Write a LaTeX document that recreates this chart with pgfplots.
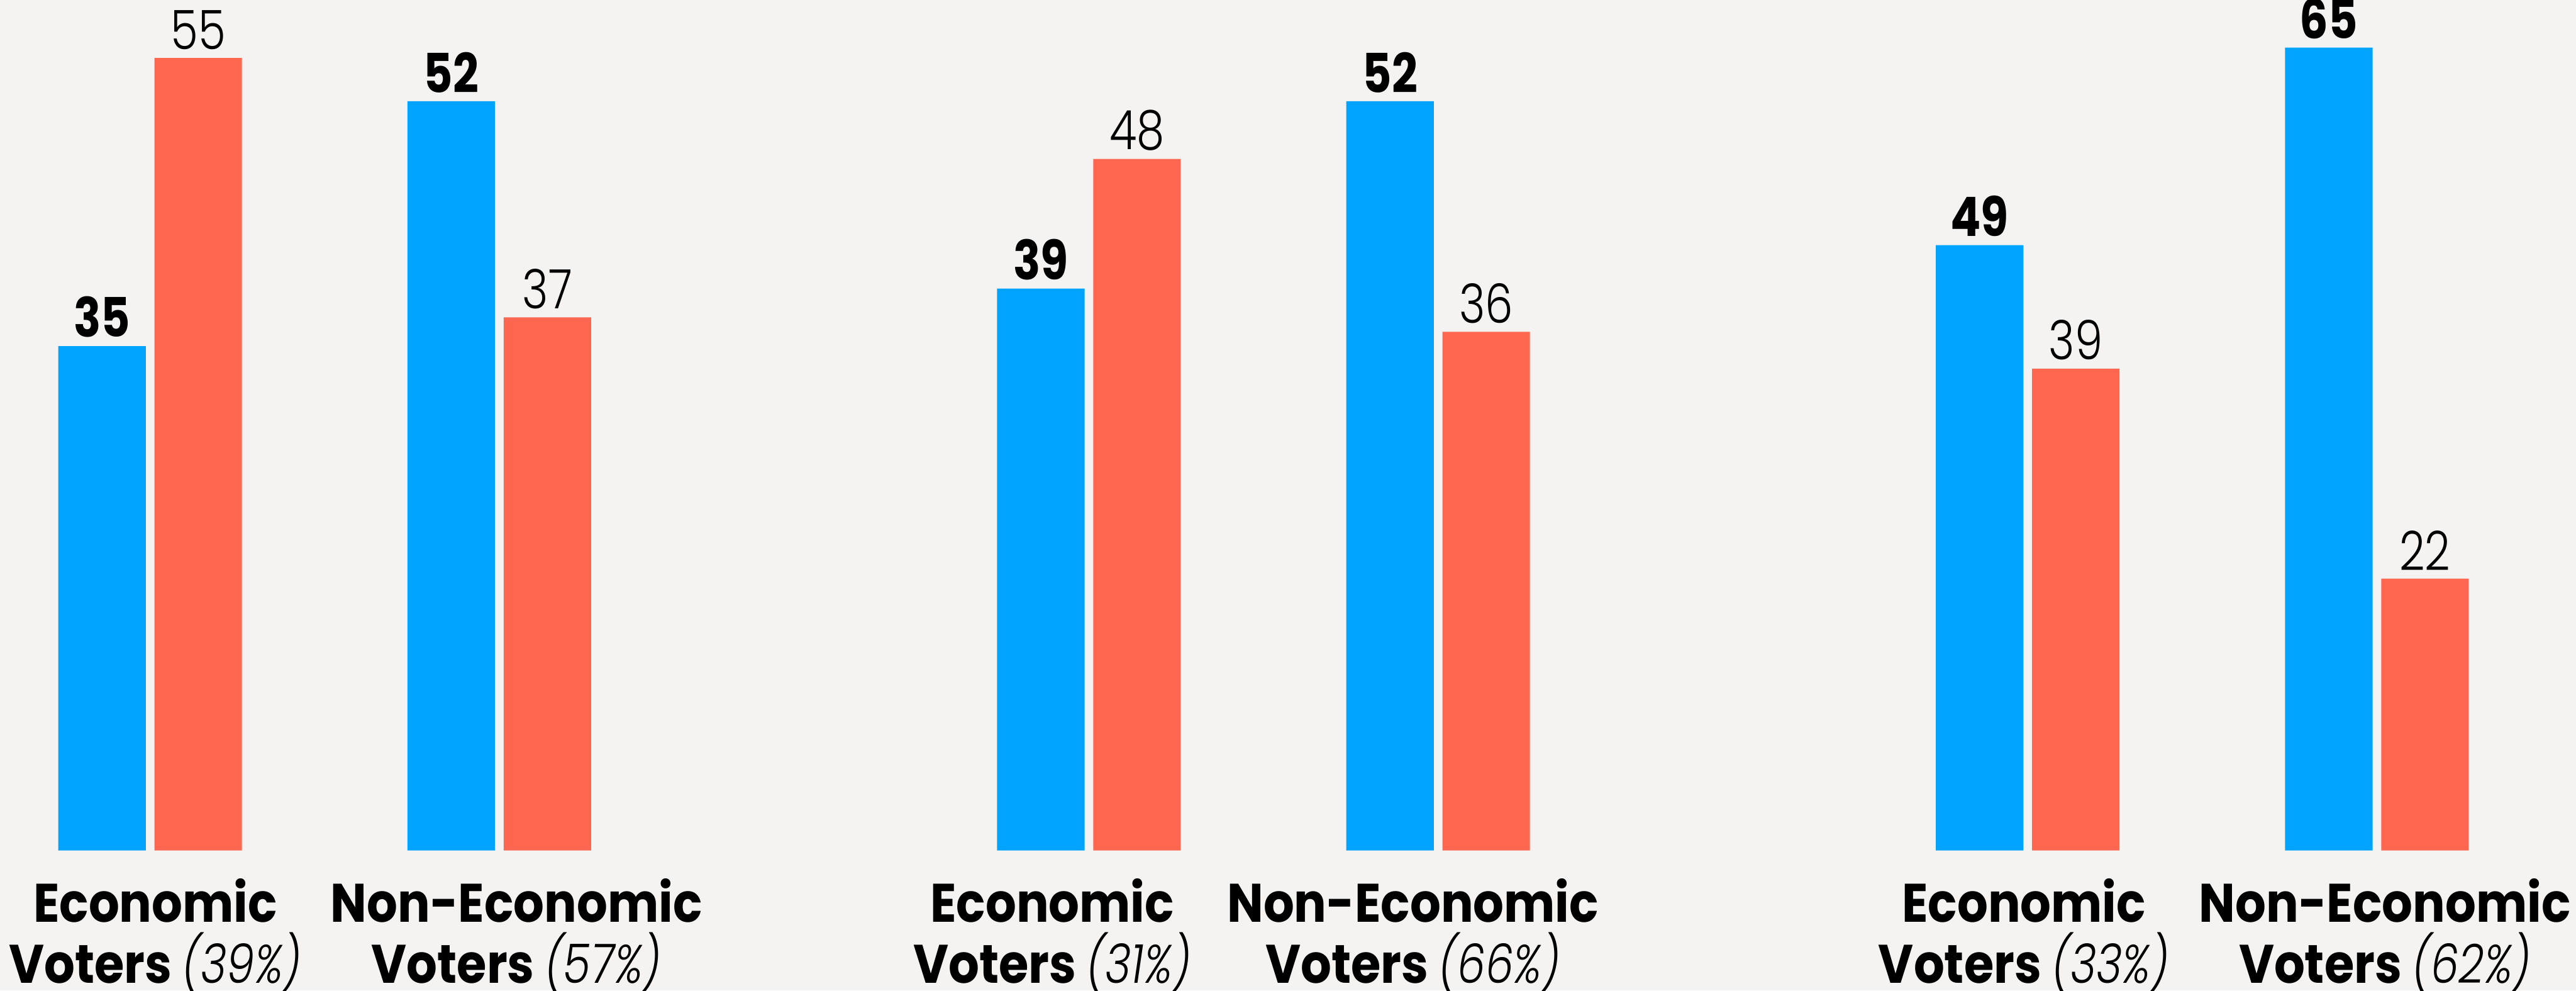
\documentclass[border=0pt]{standalone}
\usepackage{fontspec}
\usepackage{pgfplots}
\pgfplotsset{compat=1.18}
\newfontfamily\pl{Poppins Light}[FakeStretch=0.82]
\newfontfamily\pli{Poppins Light Italic}[FakeStretch=0.82]
\newfontfamily\pb{Poppins Bold}[FakeStretch=0.89]
\newfontfamily\pbd{Poppins Bold}[FakeStretch=0.83]
\newcommand{\fs}{\fontsize{8.8pt}{10pt}\selectfont}
\definecolor{bg}{HTML}{F4F3F1}
\definecolor{cblue}{HTML}{00A4FF}
\definecolor{cred}{HTML}{FF6650}
\pgfplotsset{panel/.style={scale only axis, width=152.3pt, height=137.9pt,
  xmin=-0.42983, xmax=2.25861, ymin=0, hide axis, ybar=1.4pt, bar width=14.2pt,
  clip=false, anchor=south west,
  nodes near coords={\pgfmathprintnumber[assume math mode=true]{\pgfplotspointmeta}},
  every node near coord/.append style={inner sep=0pt, yshift=1.2pt}}}
\newcommand{\lab}[3]{%
  \node[anchor=base, inner sep=0pt, yshift=-11.6pt] at (axis cs:#1,0) {\pb\fs #2};
  \node[anchor=base, inner sep=0pt, yshift=-21.5pt] at (axis cs:#1,0) {\pb\fs Voters \pli(#3\%)};}
\begin{document}
\begin{tikzpicture}
\path[use as bounding box, fill=bg] (0,0) rectangle (417.9pt,160.6pt);
% Panel 1
\begin{axis}[panel, at={(0pt,22.7pt)}, ymax=59.03]
\addplot[fill=cblue, draw=none, nodes near coords style={font=\pbd\fs}] coordinates {(0,35) (1,52)};
\addplot[fill=cred, draw=none, nodes near coords style={font=\pl\fs}] coordinates {(0,55) (1,37)};
\lab{0.015}{Economic}{39}
\lab{1.049}{Non-Economic}{57}
\end{axis}
% Panel 2
\begin{axis}[panel, at={(152.3pt,22.7pt)}, ymax=59.03]
\addplot[fill=cblue, draw=none, nodes near coords style={font=\pbd\fs}] coordinates {(0,39) (1,52)};
\addplot[fill=cred, draw=none, nodes near coords style={font=\pl\fs}] coordinates {(0,48) (1,36)};
\lab{-0.105}{Economic}{31}
\lab{0.928}{Non-Economic}{66}
\end{axis}
% Panel 3
\begin{axis}[panel, at={(304.6pt,22.7pt)}, ymax=68.85]
\addplot[fill=cblue, draw=none, nodes near coords style={font=\pbd\fs}] coordinates {(0,49) (1,65)};
\addplot[fill=cred, draw=none, nodes near coords style={font=\pl\fs}] coordinates {(0,39) (1,22)};
\lab{-0.011}{Economic}{33}
\lab{1.023}{Non-Economic}{62}
\end{axis}
\end{tikzpicture}
\end{document}
